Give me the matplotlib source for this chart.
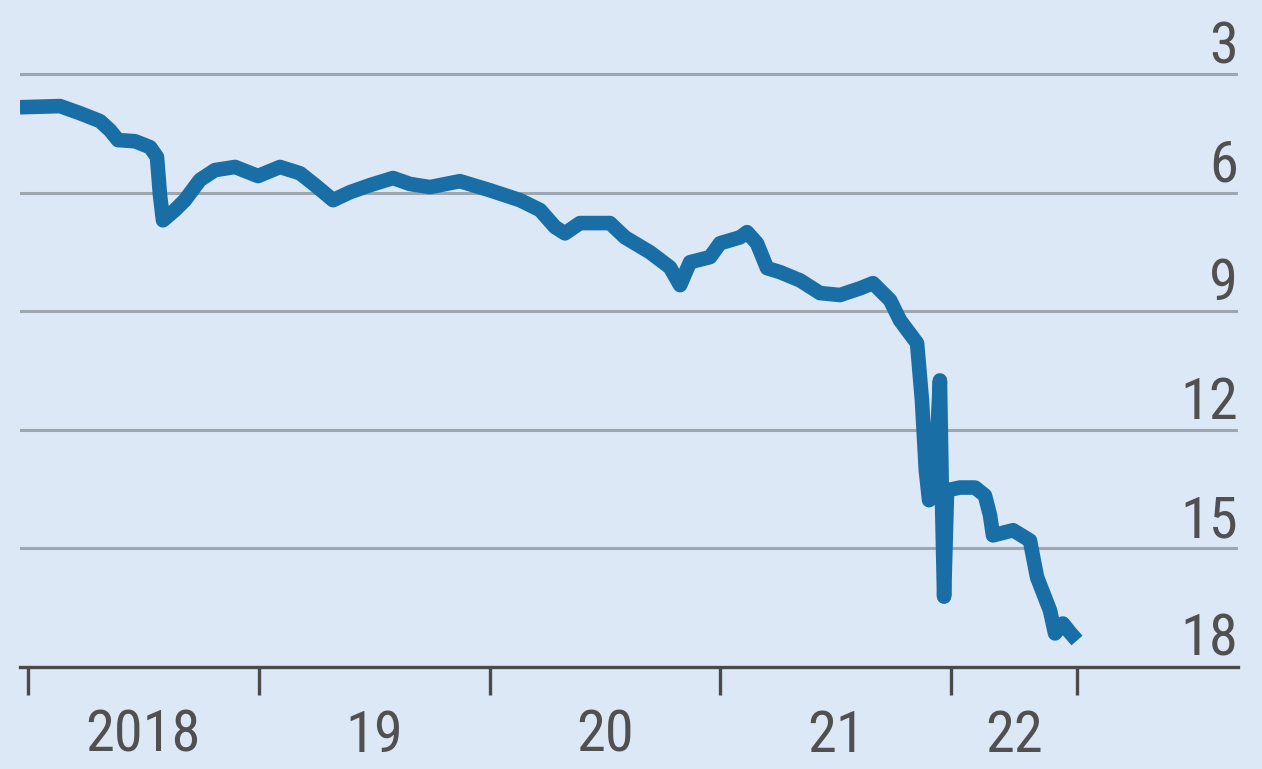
import matplotlib
matplotlib.use("Agg")
import matplotlib.pyplot as plt
from matplotlib import font_manager

# narrow face like the original if one is installed
label_font = {'family': 'DejaVu Sans'}
for fam, stretch in [('Roboto Condensed', 'normal'), ('Liberation Sans Narrow', 'normal'),
                     ('DejaVu Sans', 'condensed'), ('Noto Sans', 'condensed'),
                     ('Open Sans', 'condensed'), ('Roboto', 'normal')]:
    try:
        path = font_manager.findfont(font_manager.FontProperties(family=fam, stretch=stretch),
                                     fallback_to_default=False)
    except ValueError:
        continue
    name = path.lower()
    if stretch == 'normal' and fam != 'Roboto' and not ('narrow' in name or 'condensed' in name):
        continue
    if stretch == 'condensed' and 'condensed' not in name:
        continue
    label_font = {'family': fam, 'stretch': stretch}
    break

# decimal year / value (axis is inverted)
years = [2017.965, 2018.139, 2018.225, 2018.312, 2018.355, 2018.390, 2018.464,
         2018.529, 2018.559, 2018.572, 2018.585, 2018.637, 2018.680, 2018.745,
         2018.810, 2018.897, 2018.997, 2019.092, 2019.179, 2019.244, 2019.322,
         2019.395, 2019.482, 2019.582, 2019.655, 2019.742, 2019.872, 2020.002,
         2020.132, 2020.219, 2020.284, 2020.327, 2020.392, 2020.522, 2020.587,
         2020.696, 2020.782, 2020.826, 2020.869, 2020.956, 2020.999, 2021.086,
         2021.116, 2021.159, 2021.203, 2021.259, 2021.346, 2021.432, 2021.519,
         2021.606, 2021.662, 2021.736, 2021.779, 2021.853, 2021.874, 2021.891,
         2021.905, 2021.931, 2021.952, 2021.961, 2021.970, 2021.983, 2022.039,
         2022.104, 2022.147, 2022.169, 2022.182, 2022.269, 2022.342, 2022.373,
         2022.429, 2022.451, 2022.485, 2022.516, 2022.546]
values = [3.84, 3.81, 3.99, 4.19, 4.42, 4.67, 4.70,
          4.85, 5.10, 6.06, 6.70, 6.44, 6.19, 5.68,
          5.43, 5.35, 5.58, 5.35, 5.51, 5.81, 6.19,
          5.99, 5.81, 5.63, 5.78, 5.86, 5.71, 5.94,
          6.19, 6.44, 6.87, 7.03, 6.77, 6.77, 7.13,
          7.51, 7.89, 8.34, 7.76, 7.63, 7.28, 7.13,
          7.00, 7.28, 7.91, 8.01, 8.22, 8.54, 8.59,
          8.42, 8.29, 8.72, 9.23, 9.81, 11.25, 13.03,
          13.78, 13.28, 10.75, 13.78, 16.22, 13.53, 13.46,
          13.46, 13.66, 14.16, 14.67, 14.54, 14.80, 15.73,
          16.57, 17.15, 16.90, 17.13, 17.33]

y_ticks = [3, 6, 9, 12, 15, 18]
x_ticks = [2018, 2019, 2020, 2021, 2022, 2022.546]
x_labels = ['2018', '19', '20', '21', '22']

bg = '#dce8f6'
line_col = '#196ea5'
grid_col = '#9ea6b0'
text_col = '#505050'

fig = plt.figure(figsize=(12.62, 7.69), dpi=100, facecolor=bg)
ax = fig.add_axes([20 / 1262, 102 / 769, 1218 / 1262, 667 / 769])
ax.set_facecolor(bg)

ax.plot(years, values, color=line_col, lw=10.5, solid_joinstyle='round',
        solid_capstyle='butt', zorder=3)

ax.set_xlim(2018 - 8 / 230.75, 2018 + 1210 / 230.75)
ax.set_ylim(18, 3 - 74 / 39.5)

for v in y_ticks[:-1]:
    ax.axhline(v, color=grid_col, lw=2.2, zorder=1)
for v in y_ticks:
    ax.annotate(str(v), xy=(1.0, v), xycoords=('axes fraction', 'data'),
                xytext=(0, 11), textcoords='offset pixels',
                ha='right', va='baseline', fontsize=42, color=text_col,
                **label_font)

for s in ['top', 'left', 'right']:
    ax.spines[s].set_visible(False)
ax.spines['bottom'].set_color('#4a4a4a')
ax.spines['bottom'].set_linewidth(2.4)

ax.set_yticks([])
ax.set_xticks(x_ticks)
ax.set_xticklabels([])
ax.tick_params(axis='x', which='major', length=20, width=2.4, color='#4a4a4a')
mids = [(x_ticks[i] + x_ticks[i + 1]) / 2 for i in range(len(x_labels))]
ax.set_xticks(mids, minor=True)
ax.set_xticklabels(x_labels, minor=True, fontsize=42, color=text_col, **label_font)
ax.tick_params(axis='x', which='minor', length=0, pad=30)

fig.savefig('out.png', dpi=100, facecolor=bg)
